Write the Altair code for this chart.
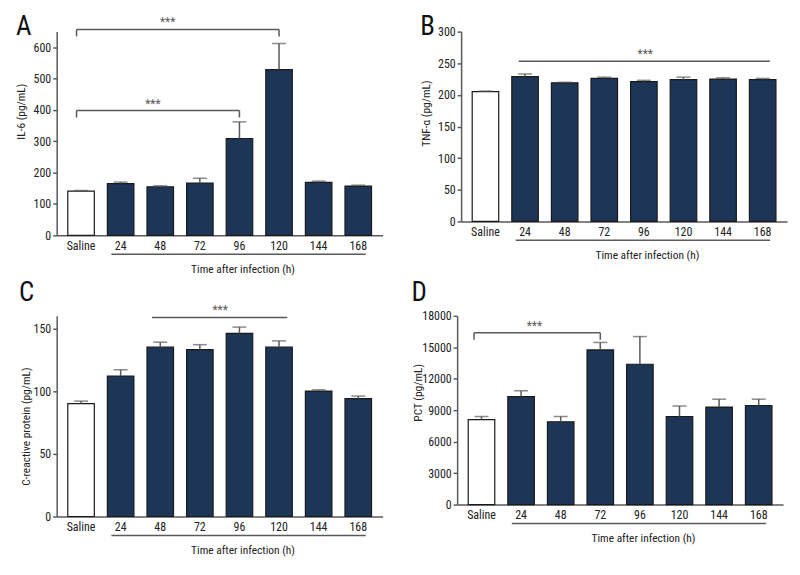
import altair as alt
import pandas as pd

cats = ["Saline", "24", "48", "72", "96", "120", "144", "168"]
groups = ["Saline"] + ["Infected"] * 7

# Panel A: IL-6
a_mean = [141, 165, 155, 167, 309, 529, 169, 157]
a_upper = [143, 170, 158, 182, 362, 612, 173, 160]
# Panel B: TNF-alpha
b_mean = [205, 229, 219, 226, 221, 224, 225, 224]
b_upper = [206, 233, 220, 228, 223, 228, 227, 226]
# Panel C: CRP
c_mean = [90, 112, 135, 133, 146, 135, 100, 94]
c_upper = [92, 117, 139, 137, 151, 140, 101, 96]
# Panel D: PCT
d_mean = [8100, 10300, 7900, 14750, 13380, 8400, 9300, 9450]
d_upper = [8400, 10850, 8400, 15460, 16020, 9400, 10050, 10050]

FONT = "'Liberation Sans Narrow', 'Roboto Condensed', Lato, sans-serif"
NAVY = "#1d3557"
GRAY = "#5a5a5a"
W = 328


def panel(letter, mean, upper, ytitle, ymax, yvals, height, brackets, stars,
          letter_y, ytitle_y, letter_x=-41, ytitle_x=-30):
    df = pd.DataFrame({"cat": cats, "mean": mean, "upper": upper, "grp": groups})
    xscale = alt.Scale(domain=cats, paddingInner=0.33, paddingOuter=0.28)
    yscale = alt.Scale(domain=[0, ymax], nice=False, zero=True)
    xaxis = alt.Axis(title="Time after infection (h)", labelAngle=0, ticks=False,
                     labelPadding=5, titleX=187, titleY=28, labelOverlap=False,
                     titleBaseline="top", titleFontWeight="normal")
    yaxis = alt.Axis(title=ytitle, values=yvals, format="d", grid=False,
                     tickSize=4, titleX=ytitle_x, titleY=ytitle_y, labelOverlap=False,
                     titleFontWeight="normal")
    base = alt.Chart(df)
    bars = base.mark_bar(stroke="#1a1a1a", strokeWidth=1.2).encode(
        x=alt.X("cat:N", scale=xscale, sort=cats, axis=xaxis),
        y=alt.Y("mean:Q", scale=yscale, axis=yaxis),
        fill=alt.Fill("grp:N", scale=alt.Scale(domain=["Saline", "Infected"],
                                               range=["#ffffff", NAVY]), legend=None),
    )
    err = base.mark_rule(color=GRAY, strokeWidth=1.5).encode(
        x=alt.X("cat:N", scale=xscale, sort=cats, axis=xaxis),
        y=alt.Y("mean:Q", scale=yscale, axis=yaxis),
        y2="upper:Q",
    )
    cap = base.mark_tick(color=GRAY, thickness=1.5, size=14, orient="horizontal").encode(
        x=alt.X("cat:N", scale=xscale, sort=cats, axis=xaxis),
        y=alt.Y("upper:Q", scale=yscale, axis=yaxis),
    )
    layers = [bars, err, cap]
    for (c0, p0, c1, p1, yv, ends) in brackets:
        bdf = pd.DataFrame({"c0": [c0], "c1": [c1], "y": [yv]})
        layers.append(alt.Chart(bdf).mark_rule(color=GRAY, strokeWidth=1.5).encode(
            x=alt.X("c0:N", scale=xscale, sort=cats, axis=xaxis, bandPosition=p0),
            x2=alt.X2("c1:N", bandPosition=p1),
            y=alt.Y("y:Q", scale=yscale, axis=yaxis),
        ))
        if ends:
            for cc, pp in ((c0, p0), (c1, p1)):
                edf = pd.DataFrame({"c": [cc], "y": [yv]})
                layers.append(alt.Chart(edf).mark_rule(color=GRAY, strokeWidth=1.5,
                                                       y2Offset=7).encode(
                    x=alt.X("c:N", scale=xscale, sort=cats, axis=xaxis, bandPosition=pp),
                    y=alt.Y("y:Q", scale=yscale, axis=yaxis),
                    y2="y:Q",
                ))
    for (cc, pp, yv, dx) in stars:
        sdf = pd.DataFrame({"c": [cc], "y": [yv], "t": ["***"]})
        layers.append(alt.Chart(sdf).mark_text(color=GRAY, fontSize=12, baseline="bottom",
                                               dy=0, dx=dx, font=FONT).encode(
            x=alt.X("c:N", scale=xscale, sort=cats, axis=xaxis, bandPosition=pp),
            y=alt.Y("y:Q", scale=yscale, axis=yaxis),
            text="t:N",
        ))
    udf = pd.DataFrame({"u0": ["24"], "u1": ["168"]})
    layers.append(alt.Chart(udf).mark_rule(color=GRAY, strokeWidth=1.5).encode(
        x=alt.X("u0:N", scale=xscale, sort=cats, axis=xaxis, bandPosition=0.15),
        x2=alt.X2("u1:N", bandPosition=0.78),
        y=alt.value(height + 19),
    ))
    ldf = pd.DataFrame({"t": [letter]})
    layers.append(alt.Chart(ldf).mark_text(fontSize=27, align="left", baseline="alphabetic",
                                           color="#111", font=FONT).encode(
        text="t:N", x=alt.value(letter_x), y=alt.value(letter_y)))
    return alt.layer(*layers).properties(width=W, height=height)


A = panel("A", a_mean, a_upper, "IL-6 (pg/mL)", 650, [0, 100, 200, 300, 400, 500, 600], 205,
          [("Saline", 0.33, "120", 0.5, 657, True), ("Saline", 0.33, "96", 0.5, 398, True)],
          [("48", 0.78, 657, 0), ("48", 0.22, 398, 0)], letter_y=3, ytitle_y=80)
B = panel("B", b_mean, b_upper, "TNF-α (pg/mL)", 300, [0, 50, 100, 150, 200, 250, 300], 191,
          [("24", 0.26, "168", 0.77, 253, False)],
          [("96", 0.55, 253, 0)], letter_y=3, ytitle_y=82, letter_x=-41)
C = panel("C", c_mean, c_upper, "C-reactive protein (pg/mL)", 160, [0, 50, 100, 150], 202,
          [("48", 0.19, "120", 0.81, 158.7, False)],
          [("72", 1.0, 158.7, 7)], letter_y=-15, ytitle_y=111, letter_x=-38, ytitle_x=-25)
D = panel("D", d_mean, d_upper, "PCT (pg/mL)", 18000,
          [0, 3000, 6000, 9000, 12000, 15000, 18000], 190,
          [("Saline", 0.22, "72", 0.5, 16380, True)],
          [("24", 1.0, 16380, 0)], letter_y=-15, ytitle_y=77, letter_x=-46, ytitle_x=-34)

chart = alt.vconcat(
    alt.hconcat(A, B, spacing=38),
    alt.hconcat(C, D, spacing=29),
    spacing=4,
).properties(
    padding={"left": 8, "top": 3, "right": 5, "bottom": 5}
).configure_view(stroke=None).configure_axis(
    labelFont=FONT, titleFont=FONT, labelFontSize=12, titleFontSize=11.5,
    labelColor="#222", titleColor="#222", domainColor=GRAY, domainWidth=1.5,
    tickColor=GRAY, tickWidth=1.5,
).configure_text(font=FONT)

chart.save("out.html", embed_options={"renderer": "svg", "actions": False})
